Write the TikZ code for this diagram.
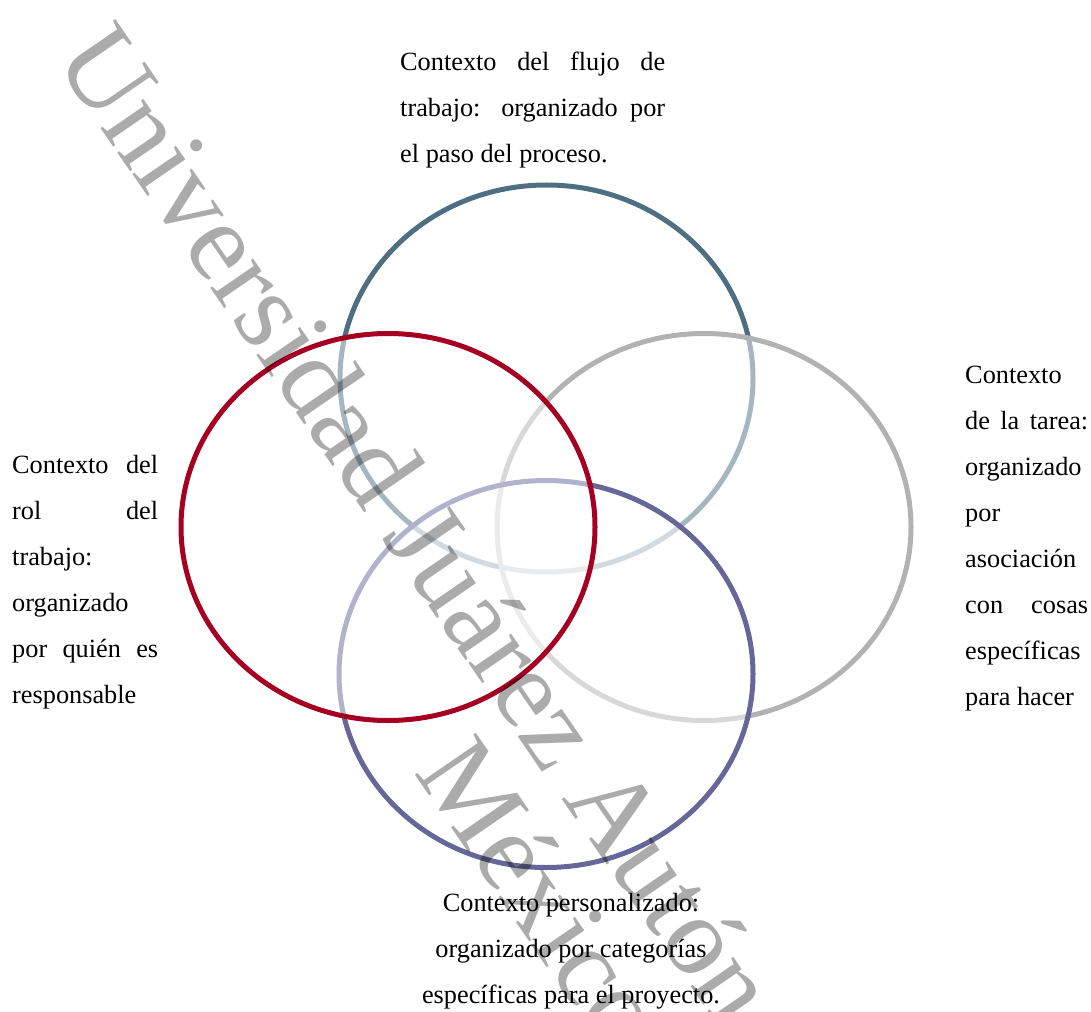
\documentclass[tikz,border=0pt]{standalone}
\usepackage{fontspec}
\setmainfont{Liberation Serif}
\definecolor{cBlue}{RGB}{78,110,130}
\definecolor{cRed}{RGB}{165,0,33}
\definecolor{cGray}{RGB}{178,178,178}
\definecolor{cPurple}{RGB}{102,102,153}
\newcommand\fullline[1]{\hbox to\hsize{#1}}
\begin{document}
\begin{tikzpicture}[x=1pt,y=-1pt,
  ring/.style={line width=5pt, fill=white, fill opacity=0.5, draw opacity=1},
  txt/.style={inner sep=0pt, anchor=base west, font=\fontsize{26.3}{46}\selectfont},
  wm/.style={inner sep=0pt, anchor=base west, font=\fontsize{113}{113}\selectfont, text=black, text opacity=0.33, transform shape}]
\useasboundingbox (0,0) rectangle (1091,1011);
% circles (drawn in stacking order)
\draw[ring, draw=cBlue]   (546.5,378.5) ellipse [x radius=206.5pt, y radius=193.5pt];
\draw[ring, draw=cGray]   (704,527)     ellipse [x radius=207pt, y radius=193.5pt];
\draw[ring, draw=cPurple] (546,674)     ellipse [x radius=207pt, y radius=193.5pt];
\draw[ring, draw=cRed]    (388,527)     ellipse [x radius=207pt, y radius=193.5pt];
% labels
\node[txt] (flujo) at (400,71) {\vtop{\hsize=265pt\parindent=0pt
  \fullline{Contexto del flujo de}
  \fullline{trabajo: organizado por}
  \fullline{el paso del proceso.\hfil}}};
\node[txt] (rol) at (12,473) {\vtop{\hsize=146pt\parindent=0pt
  \fullline{Contexto del}
  \fullline{rol del}
  \fullline{trabajo:\hfil}
  \fullline{organizado\hfil}
  \fullline{por quién es}
  \fullline{responsable\hfil}}};
\node[txt] (tarea) at (965,383) {\vtop{\hsize=123pt\parindent=0pt
  \fullline{Contexto\hfil}
  \fullline{de la tarea:}
  \fullline{organizado\hfil}
  \fullline{por\hfil}
  \fullline{asociación\hfil}
  \fullline{con cosas}
  \fullline{específicas\hfil}
  \fullline{para hacer\hfil}}};
\node[txt, anchor=base] (pers) at (571,911) {\vtop{\hsize=360pt\parindent=0pt
  \fullline{\hfil Contexto personalizado:\hfil}
  \fullline{\hfil organizado por categorías\hfil}
  \fullline{\hfil específicas para el proyecto.\hfil}}};
% watermark
\begin{scope}[shift={(53,59)}, rotate=-55.5]
\node[wm] (wmA) at (0,0) {Universidad Juárez Autónoma de Tabasco};
\node[wm] (wmB) at (792,107) {México};
\end{scope}
\end{tikzpicture}
\end{document}
